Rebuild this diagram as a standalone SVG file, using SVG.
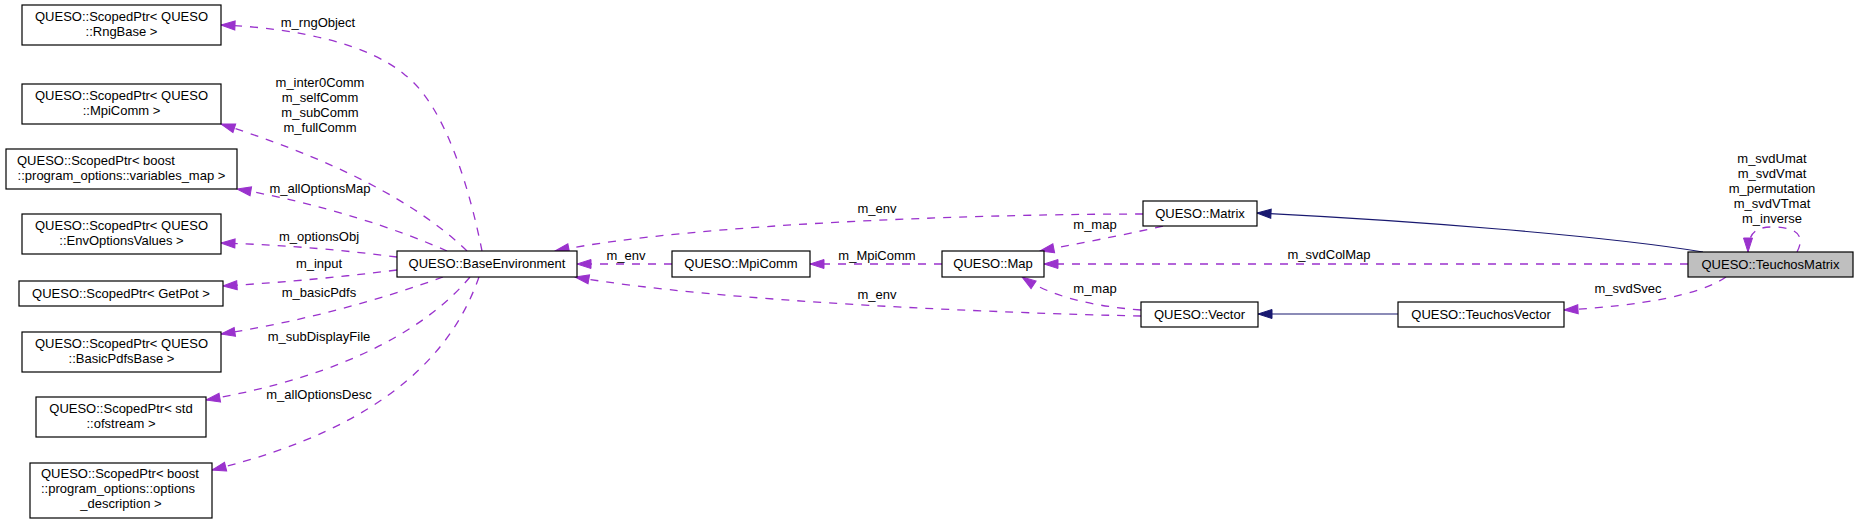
<svg xmlns="http://www.w3.org/2000/svg" width="1859" height="524" viewBox="0 0 1859 524">
<style>
.n rect{fill:#fff;stroke:#000;stroke-width:1.2}
.n text,.lbl{font-family:"Liberation Sans",Arial,sans-serif;font-size:13px;fill:#000}
.c{text-anchor:middle}
.e{fill:none;stroke:#9a32cd;stroke-width:1.3;stroke-dasharray:8,8;marker-end:url(#pa)}
.i{fill:none;stroke:#191970;stroke-width:1.2;marker-end:url(#na)}
</style>
<defs>
<marker id="pa" markerUnits="userSpaceOnUse" markerWidth="16" markerHeight="12" viewBox="0 0 16 12" refX="15" refY="6" orient="auto">
<path d="M1,1.5 L15,6 L1,10.5 z" fill="#9a32cd" stroke="#9a32cd" stroke-width="1" stroke-dasharray="none"/>
</marker>
<marker id="na" markerUnits="userSpaceOnUse" markerWidth="16" markerHeight="12" viewBox="0 0 16 12" refX="15" refY="6" orient="auto">
<path d="M1,1.5 L15,6 L1,10.5 z" fill="#191970" stroke="#191970" stroke-width="1"/>
</marker>
</defs>
<rect width="1859" height="524" fill="#fff"/>
<g id="connectors">
<path class="e" d="M482,251 C470,190 445,105 405,75 C370,45 300,28 221,25"/>
<path class="e" d="M467,251 C430,215 360,168 221,124"/>
<path class="e" d="M447,251 C400,230 320,203 237,189"/>
<path class="e" d="M397,257 C350,251 290,245 221,243"/>
<path class="e" d="M397,270 C340,277 290,282 223,286"/>
<path class="e" d="M443,277 C380,300 300,322 221,334"/>
<path class="e" d="M470,277 C430,325 350,375 206,400"/>
<path class="e" d="M479,277 C455,345 395,425 212,470"/>
<path class="e" d="M1143,214 C1000,214 700,222 555,251"/>
<path class="e" d="M672,264 L577,264"/>
<path class="e" d="M942,264 L810,264"/>
<path class="e" d="M1141,316 C1000,313 720,302 575,277"/>
<path class="e" d="M1163,226 C1120,236 1080,243 1040,251"/>
<path class="e" d="M1141,310 C1090,306 1050,296 1022,277"/>
<path class="e" d="M1688,264 L1044,264"/>
<path class="e" d="M1726,277 C1700,295 1640,306 1564,310"/>
<path class="e" d="M1797,252 C1806,235 1796,227 1772,227 C1755,227 1748,234 1748,252"/>
<path class="i" d="M1703,252 C1600,235 1400,220 1257,213"/>
<path class="i" d="M1398,314 L1258,314"/>
<text class="lbl c" x="318" y="27">m_rngObject</text>
<text class="lbl c" x="320" y="87">m_inter0Comm</text>
<text class="lbl c" x="320" y="102">m_selfComm</text>
<text class="lbl c" x="320" y="117">m_subComm</text>
<text class="lbl c" x="320" y="132">m_fullComm</text>
<text class="lbl c" x="320" y="193">m_allOptionsMap</text>
<text class="lbl c" x="319" y="241">m_optionsObj</text>
<text class="lbl c" x="319" y="268">m_input</text>
<text class="lbl c" x="319" y="297">m_basicPdfs</text>
<text class="lbl c" x="319" y="341">m_subDisplayFile</text>
<text class="lbl c" x="319" y="399">m_allOptionsDesc</text>
<text class="lbl c" x="877" y="213">m_env</text>
<text class="lbl c" x="626" y="260">m_env</text>
<text class="lbl c" x="877" y="260">m_MpiComm</text>
<text class="lbl c" x="877" y="299">m_env</text>
<text class="lbl c" x="1095" y="229">m_map</text>
<text class="lbl c" x="1095" y="293">m_map</text>
<text class="lbl c" x="1329" y="259">m_svdColMap</text>
<text class="lbl c" x="1628" y="293">m_svdSvec</text>
<text class="lbl c" x="1772" y="163">m_svdUmat</text>
<text class="lbl c" x="1772" y="178">m_svdVmat</text>
<text class="lbl c" x="1772" y="193">m_permutation</text>
<text class="lbl c" x="1772" y="208">m_svdVTmat</text>
<text class="lbl c" x="1772" y="223">m_inverse</text>
</g>
<g id="n_rng" class="n"><rect x="22" y="5" width="199" height="40"/><text class="c" x="121.5" y="21">QUESO::ScopedPtr&lt; QUESO</text><text class="c" x="121.5" y="36">::RngBase &gt;</text></g>
<g id="n_mpiptr" class="n"><rect x="22" y="84" width="199" height="40"/><text class="c" x="121.5" y="100">QUESO::ScopedPtr&lt; QUESO</text><text class="c" x="121.5" y="115">::MpiComm &gt;</text></g>
<g id="n_varmap" class="n"><rect x="6" y="149" width="231" height="40"/><text x="17" y="165">QUESO::ScopedPtr&lt; boost</text><text class="c" x="121.5" y="180">::program_options::variables_map &gt;</text></g>
<g id="n_envopt" class="n"><rect x="22" y="214" width="199" height="40"/><text class="c" x="121.5" y="230">QUESO::ScopedPtr&lt; QUESO</text><text class="c" x="121.5" y="245">::EnvOptionsValues &gt;</text></g>
<g id="n_getpot" class="n"><rect x="19" y="281" width="204" height="25"/><text class="c" x="121" y="298">QUESO::ScopedPtr&lt; GetPot &gt;</text></g>
<g id="n_pdfs" class="n"><rect x="22" y="332" width="199" height="40"/><text class="c" x="121.5" y="348">QUESO::ScopedPtr&lt; QUESO</text><text class="c" x="121.5" y="363">::BasicPdfsBase &gt;</text></g>
<g id="n_ofstream" class="n"><rect x="36" y="397" width="170" height="40"/><text class="c" x="121" y="413">QUESO::ScopedPtr&lt; std</text><text class="c" x="121" y="428">::ofstream &gt;</text></g>
<g id="n_optdesc" class="n"><rect x="30" y="463" width="182" height="55"/><text x="41" y="478">QUESO::ScopedPtr&lt; boost</text><text x="41" y="493">::program_options::options</text><text class="c" x="121" y="508">_description &gt;</text></g>
<g id="n_baseenv" class="n"><rect x="397" y="251" width="180" height="26"/><text class="c" x="487" y="268">QUESO::BaseEnvironment</text></g>
<g id="n_mpicomm" class="n"><rect x="672" y="251" width="138" height="26"/><text class="c" x="741" y="268">QUESO::MpiComm</text></g>
<g id="n_map" class="n"><rect x="942" y="251" width="102" height="26"/><text class="c" x="993" y="268">QUESO::Map</text></g>
<g id="n_matrix" class="n"><rect x="1143" y="201" width="114" height="25"/><text class="c" x="1200" y="218">QUESO::Matrix</text></g>
<g id="n_vector" class="n"><rect x="1141" y="302" width="117" height="25"/><text class="c" x="1199.5" y="319">QUESO::Vector</text></g>
<g id="n_tvector" class="n"><rect x="1398" y="302" width="166" height="25"/><text class="c" x="1481" y="319">QUESO::TeuchosVector</text></g>
<g id="n_tmatrix" class="n"><rect x="1688" y="252" width="165" height="25" style="fill:#bfbfbf"/><text class="c" x="1770.5" y="269">QUESO::TeuchosMatrix</text></g>
</svg>
